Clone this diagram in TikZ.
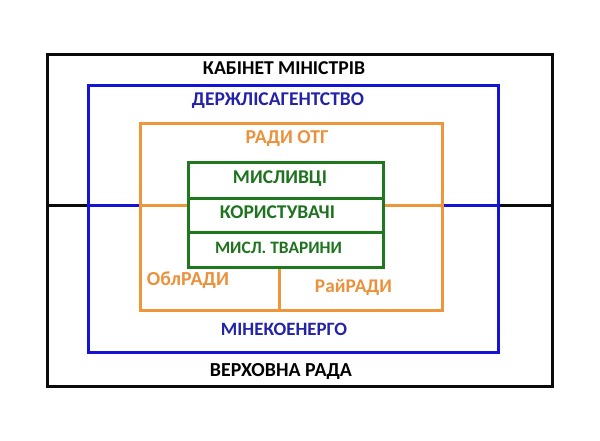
\documentclass[tikz,border=0pt]{standalone}
\usepackage{fontspec}
\setmainfont{Carlito}
\usepackage{graphicx}
\definecolor{cblack}{RGB}{10,10,10}
\definecolor{cblue}{RGB}{20,20,215}
\definecolor{cbluetext}{RGB}{35,35,170}
\definecolor{corange}{RGB}{238,150,60}
\definecolor{corangetext}{RGB}{235,145,60}
\definecolor{cgreen}{RGB}{30,120,30}
\definecolor{cgreentext}{RGB}{30,115,30}
\newcommand\fitw[2]{\resizebox{#1pt}{!}{\bfseries #2}}
\begin{document}
\begin{tikzpicture}[x=1pt,y=-1pt,
  frame/.style={draw=#1,line width=3pt,inner sep=0pt,anchor=north west},
  link/.style={draw=#1,line width=3pt},
  lbl/.style={inner sep=0pt,text=#1}]
\useasboundingbox (0,0) rectangle (600,441);
\fill[white] (0,0) rectangle (600,441);
% frames
\node[frame=cblack,minimum width=505pt,minimum height=332pt] (outer) at (46,53) {};
\node[frame=cblue,minimum width=410pt,minimum height=267pt] (blue) at (87,84) {};
\node[frame=corange,minimum width=302pt,minimum height=187pt] (orange) at (139,122) {};
\node[frame=cgreen,minimum width=195pt,minimum height=36pt] (g1) at (187,161) {};
\node[frame=cgreen,minimum width=195pt,minimum height=34pt] (g2) at (187,197) {};
\node[frame=cgreen,minimum width=195pt,minimum height=35pt] (g3) at (187,231) {};
% horizontal links
\coordinate (hl) at (46,205);
\coordinate (hr) at (551,205);
\draw[link=cblack] (outer.west |- hl) -- (blue.west |- hl);
\draw[link=cblue] (blue.west |- hl) -- (orange.west |- hl);
\draw[link=corange] (orange.west |- hl) -- (g2.west |- hl);
\draw[link=corange] (g2.east |- hl) -- (orange.east |- hl);
\draw[link=cblue] (orange.east |- hl) -- (blue.east |- hl);
\draw[link=cblack] (blue.east |- hl) -- (outer.east |- hr);
% orange divider
\coordinate (dv) at (279,0);
\draw[link=corange] (g3.south -| dv) -- (orange.south -| dv);
% labels
\node[lbl=black] (t1) at (284,68) {\fitw{162}{КАБІНЕТ МІНІСТРІВ}};
\node[lbl=cbluetext] (t2) at (278,101) {\fitw{172}{ДЕРЖЛІСАГЕНТСТВО}};
\node[lbl=corangetext] (t3) at (287,138.5) {\fitw{83}{РАДИ ОТГ}};
\node[lbl=cgreentext] (t4) at (280,178.5) {\fitw{94}{МИСЛИВЦІ}};
\node[lbl=cgreentext] (t5) at (277.5,212.5) {\fitw{115}{КОРИСТУВАЧІ}};
\node[lbl=cgreentext] (t6) at (278.5,248) {\fitw{127}{МИСЛ. ТВАРИНИ}};
\node[lbl=corangetext] (t7) at (188,280.5) {\fitw{82}{ОблРАДИ}};
\node[lbl=corangetext] (t8) at (353.5,287) {\fitw{77}{РайРАДИ}};
\node[lbl=cbluetext] (t9) at (284,329) {\fitw{126}{МІНЕКОЕНЕРГО}};
\node[lbl=black] (t10) at (281,371.5) {\fitw{142}{ВЕРХОВНА РАДА}};
\end{tikzpicture}
\end{document}
